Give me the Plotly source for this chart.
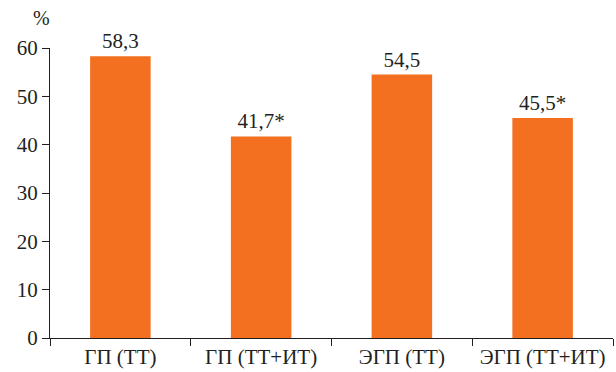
import plotly.graph_objects as go

categories = ["ГП (ТТ)", "ГП (ТТ+ИТ)", "ЭГП (ТТ)", "ЭГП (ТТ+ИТ)"]
values = [58.3, 41.7, 54.5, 45.5]
value_labels = ["58,3", "41,7*", "54,5", "45,5*"]
y_ticks = [0, 10, 20, 30, 40, 50, 60]

serif = "serif"
ink = "#231f20"

fig = go.Figure()
fig.add_trace(go.Bar(
    x=categories, y=values,
    text=value_labels, textposition="outside",
    textfont=dict(family=serif, size=21, color=ink),
    marker=dict(color="#F37021", line=dict(width=0)),
    width=0.43, cliponaxis=False,
))

fig.update_layout(
    width=616, height=372,
    margin=dict(l=50, r=3, t=48, b=34),
    paper_bgcolor="white", plot_bgcolor="white",
    showlegend=False,
    font=dict(family=serif, size=21, color=ink),
    xaxis=dict(
        showline=True, linecolor=ink, linewidth=1.2,
        ticks="outside", tickson="boundaries", ticklen=7, tickcolor=ink, tickwidth=1.2,
        tickfont=dict(family=serif, size=21, color=ink), tickangle=0,
        showgrid=False, zeroline=False,
    ),
    yaxis=dict(
        range=[0, 60], tickvals=y_ticks,
        showline=True, linecolor=ink, linewidth=1.2,
        ticks="outside", ticklen=7, tickcolor=ink, tickwidth=1.2,
        tickfont=dict(family=serif, size=21, color=ink),
        showgrid=False, zeroline=False,
    ),
)
fig.add_annotation(
    text="%", xref="paper", yref="paper", x=-0.015, y=1, yshift=30,
    xanchor="center", yanchor="middle", showarrow=False,
    font=dict(family=serif, size=20, color=ink),
)
fig.write_html("out.html")
